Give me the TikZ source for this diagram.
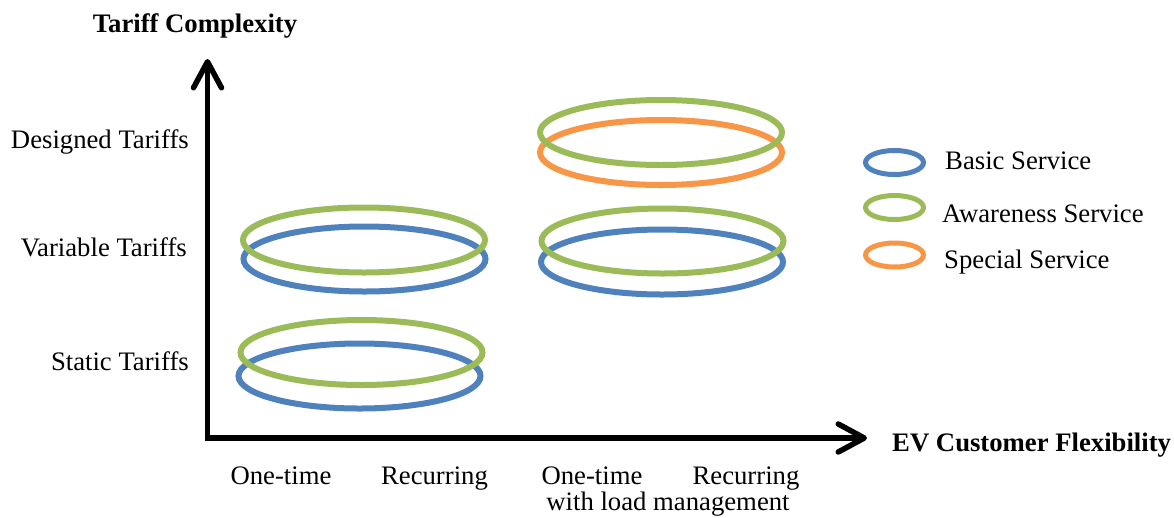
\documentclass[tikz,border=0pt]{standalone}
\usepackage{fontspec}
\setmainfont{Liberation Serif}
\usetikzlibrary{shapes.geometric,arrows.meta}
\definecolor{svcblue}{HTML}{4F81BD}
\definecolor{svcgreen}{HTML}{9BBB59}
\definecolor{svcorange}{HTML}{F79646}
\begin{document}
\begin{tikzpicture}[x=1pt,y=-1pt,
  ring/.style={ellipse, draw, line width=6pt, minimum width=242pt, minimum height=65pt, inner sep=0pt},
  keyring/.style={ellipse, draw, line width=5pt, minimum width=58pt, minimum height=24pt, inner sep=0pt},
  lbl/.style={font=\fontsize{26.7}{31}\selectfont, inner sep=0pt},
  blbl/.style={font=\fontsize{26.7}{31}\selectfont\bfseries, inner sep=0pt},
  axis/.style={line width=5.5pt, line cap=rect, -{Straight Barb[length=26pt, width=28pt, round]}}]
\useasboundingbox (0,0) rectangle (1174,517);
% axes
\coordinate (O) at (207.5,438);
\coordinate (ytop) at (207.5,59);
\coordinate (xend) at (867,438);
\draw[axis] (O) -- (ytop);
\draw[axis] (O) -- (xend);
% rings (underneath first)
\node[ring, svcblue] (sb) at (359.5,376) {};
\node[ring, svcgreen] (sg) at (361.5,352.5) {};
\node[ring, svcblue] (vlb) at (364.5,259) {};
\node[ring, svcgreen] (vlg) at (364,240) {};
\node[ring, svcblue] (vrb) at (662,262) {};
\node[ring, svcgreen] (vrg) at (662.5,241) {};
\node[ring, svcorange] (dro) at (661,152.5) {};
\node[ring, svcgreen] (drg) at (661,132.5) {};
% legend
\node[keyring, svcblue] (kb) at (894.5,162.5) {};
\node[keyring, svcgreen] (kg) at (894.5,207.5) {};
\node[keyring, svcorange] (ko) at (894.5,255) {};
\node[lbl, anchor=base west] (tb) at (945,169) {Basic Service};
\node[lbl, anchor=base west] (tg) at (942,222) {Awareness Service};
\node[lbl, anchor=base west] (to) at (944,268) {Special Service};
% axis titles
\node[blbl, anchor=base] (ytitle) at (195,32) {Tariff Complexity};
\node[blbl, anchor=base west] (xtitle) at (892,451) {EV Customer Flexibility};
% y labels
\node[lbl, anchor=base east] (yd) at (189,148) {Designed Tariffs};
\node[lbl, anchor=base east] (yv) at (187,256) {Variable Tariffs};
\node[lbl, anchor=base east] (ys) at (189,370) {Static Tariffs};
% x labels
\node[lbl, anchor=base] (x1) at (281,484) {One-time};
\node[lbl, anchor=base] (x2) at (434.5,484) {Recurring};
\node[lbl, anchor=base] (x3) at (592,484) {One-time};
\node[lbl, anchor=base] (x4) at (746,484) {Recurring};
\node[lbl, anchor=base] (x5) at (668,510) {with load management};
\end{tikzpicture}
\end{document}
